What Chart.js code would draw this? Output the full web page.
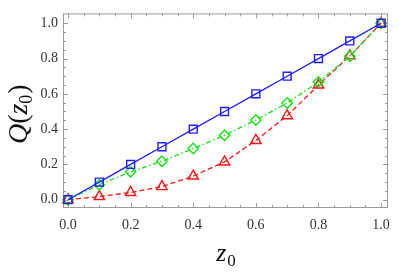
<!DOCTYPE html>
<html>
<head>
<meta charset="utf-8">
<script src="https://cdn.jsdelivr.net/npm/chart.js@4.4.1/dist/chart.umd.min.js"></script>
<style>
html,body{margin:0;padding:0;background:#fff;}
#wrap{width:399px;height:276px;position:relative;}
</style>
</head>
<body>
<div id="wrap"><canvas id="c" width="399" height="276"></canvas></div>
<script>
const zValues   = [0.0, 0.1, 0.2, 0.3, 0.4, 0.5, 0.6, 0.7, 0.8, 0.9, 1.0];
const qSquare   = [0.0, 0.1, 0.2, 0.3, 0.4, 0.5, 0.6, 0.7, 0.8, 0.9, 1.0];
const qDiamond  = [0.0, 0.085, 0.158, 0.218, 0.29, 0.365, 0.452, 0.548, 0.668, 0.813, 1.0];
const qTriangle = [0.0, 0.018, 0.041, 0.074, 0.134, 0.214, 0.336, 0.476, 0.65, 0.815, 1.0];
const xTickValues = [0.0, 0.2, 0.4, 0.6, 0.8, 1.0];
const yTickValues = [0.0, 0.2, 0.4, 0.6, 0.8, 1.0];
const xTitle = ['z', '0'];
const yTitle = ['Q', '(', 'z', '0', ')'];

const toPts = (ys) => zValues.map((x, i) => ({x: x, y: ys[i]}));
const SERIF = '"Liberation Serif"';

const framePlugin = {
  id: 'frame',
  beforeDatasetsDraw(chart) {
    const {ctx, chartArea: a, scales} = chart;
    const xs = scales.x, ys = scales.y;
    ctx.save();
    ctx.strokeStyle = '#9a9a9a';
    ctx.lineWidth = 1;
    ctx.strokeRect(a.left + 0.5, a.top + 0.5, a.right - a.left - 1, a.bottom - a.top - 1);
    ctx.beginPath();
    for (let k = 0; k <= 20; k++) {
      const v = k * 0.05;
      const major = k % 4 === 0;
      const L = major ? 5 : 3;
      const px = Math.round(xs.getPixelForValue(v)) + 0.5;
      ctx.moveTo(px, a.bottom); ctx.lineTo(px, a.bottom - L);
      ctx.moveTo(px, a.top); ctx.lineTo(px, a.top + L);
      const py = Math.round(ys.getPixelForValue(v)) + 0.5;
      ctx.moveTo(a.left, py); ctx.lineTo(a.left + L, py);
      ctx.moveTo(a.right, py); ctx.lineTo(a.right - L, py);
    }
    ctx.stroke();
    ctx.restore();
  },
  afterDraw(chart) {
    const {ctx, chartArea: a} = chart;
    ctx.save();
    ctx.fillStyle = '#111';
    ctx.textBaseline = 'alphabetic';
    ctx.font = 'italic 26px ' + SERIF;
    const wz = ctx.measureText(xTitle[0]).width;
    ctx.font = '17px ' + SERIF;
    const w0 = ctx.measureText(xTitle[1]).width;
    const cx = (a.left + a.right) / 2;
    let x = cx - (wz + w0) / 2;
    ctx.font = 'italic 26px ' + SERIF;
    ctx.fillText(xTitle[0], x, 261);
    ctx.font = '17px ' + SERIF;
    ctx.fillText(xTitle[1], x + wz + 1, 266);
    ctx.translate(27, (a.top + a.bottom) / 2 + 4);
    ctx.rotate(-Math.PI / 2);
    const parts = [
      {t: yTitle[0], f: 'italic 28px ' + SERIF, dy: 0},
      {t: yTitle[1], f: '28px ' + SERIF, dy: 0},
      {t: yTitle[2], f: 'italic 28px ' + SERIF, dy: 0},
      {t: yTitle[3], f: '18px ' + SERIF, dy: 5},
      {t: yTitle[4], f: '28px ' + SERIF, dy: 0}
    ];
    let tw = 0;
    parts.forEach(p => { ctx.font = p.f; p.w = ctx.measureText(p.t).width; tw += p.w; });
    let px = -tw / 2;
    parts.forEach(p => { ctx.font = p.f; ctx.fillText(p.t, px, p.dy); px += p.w + (p.t === '0' ? 1 : 0); });
    ctx.restore();
  }
};

new Chart(document.getElementById('c'), {
  type: 'line',
  data: {
    datasets: [
      {
        data: toPts(qSquare),
        borderColor: 'rgb(30,30,255)',
        backgroundColor: 'rgba(0,0,0,0)',
        borderWidth: 1.3,
        pointStyle: 'rect',
        pointRadius: 5.6,
        pointBorderWidth: 1.4,
        pointBorderColor: 'rgb(30,30,255)',
        pointBackgroundColor: 'rgba(0,0,0,0)',
        tension: 0
      },
      {
        data: toPts(qDiamond),
        borderColor: 'rgb(20,225,20)',
        backgroundColor: 'rgba(0,0,0,0)',
        borderWidth: 1.3,
        borderDash: [5, 2.5, 1.5, 2.5],
        pointStyle: 'rectRot',
        pointRadius: 5.2,
        pointBorderWidth: 1.4,
        pointBorderColor: 'rgb(20,225,20)',
        pointBackgroundColor: 'rgba(0,0,0,0)',
        tension: 0
      },
      {
        data: toPts(qTriangle),
        borderColor: 'rgb(255,20,20)',
        backgroundColor: 'rgba(0,0,0,0)',
        borderWidth: 1.3,
        borderDash: [5, 3],
        pointStyle: 'triangle',
        pointRadius: 6,
        pointBorderWidth: 1.4,
        pointBorderColor: 'rgb(255,20,20)',
        pointBackgroundColor: 'rgba(0,0,0,0)',
        tension: 0
      }
    ]
  },
  options: {
    responsive: false,
    animation: false,
    devicePixelRatio: 1,
    layout: {padding: {top: 5, right: 6, left: 0, bottom: 0}},
    clip: false,
    plugins: {legend: {display: false}, tooltip: {enabled: false}},
    scales: {
      x: {
        type: 'linear',
        min: -0.016,
        max: 1.022,
        grid: {display: false, drawTicks: false},
        border: {display: false},
        afterBuildTicks: (s) => { s.ticks = xTickValues.map(v => ({value: v})); },
        afterFit: (s) => { s.height = 68; },
        ticks: {
          padding: 9,
          maxRotation: 0,
          color: '#333',
          font: {family: SERIF, size: 14},
          callback: (v) => Number(v).toFixed(1)
        }
      },
      y: {
        type: 'linear',
        min: -0.047,
        max: 1.056,
        grid: {display: false, drawTicks: false},
        border: {display: false},
        afterBuildTicks: (s) => { s.ticks = yTickValues.map(v => ({value: v})); },
        afterFit: (s) => { s.width = 63; },
        ticks: {
          padding: 5,
          color: '#333',
          font: {family: SERIF, size: 14},
          callback: (v) => Number(v).toFixed(1)
        }
      }
    }
  },
  plugins: [framePlugin]
});
</script>
</body>
</html>
